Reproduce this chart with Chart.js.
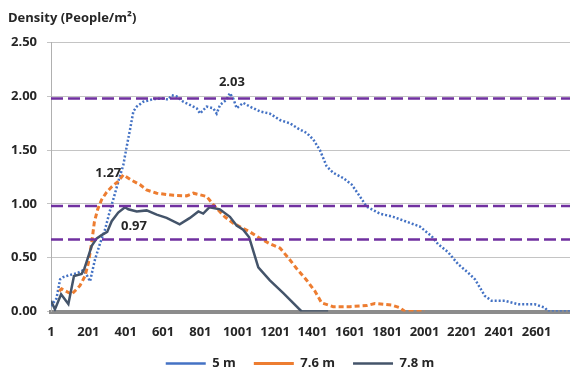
<!DOCTYPE html>
<html>
<head>
<meta charset="utf-8">
<script src="https://cdn.jsdelivr.net/npm/chart.js@4.4.1/dist/chart.umd.min.js"></script>
<style>
    html, body { margin: 0; padding: 0; background: #fff; }
    #wrap { width: 570px; height: 372px; }
</style>
</head>
<body>
<div id="wrap"><canvas id="densityChart"></canvas></div>
<script>
// Step axis: labels every 200 steps
const xTicks = [1, 201, 401, 601, 801, 1001, 1201, 1401, 1601, 1801, 2001, 2201, 2401, 2601];
const xEnd = 2780;
const yTicks = [0, 0.5, 1, 1.5, 2, 2.5];

// 5 m
const steps5 = [1, 30, 50, 67, 103, 139, 174, 195, 210, 236, 263, 290, 317, 344, 370, 388, 406, 424, 442, 460,
    495, 549, 602, 629, 647, 674, 709, 745, 781, 799, 834, 870, 888, 906, 941, 959, 977, 995, 1030, 1066,
    1120, 1173, 1227, 1280, 1325, 1370, 1405, 1441, 1477, 1512, 1566, 1611, 1655, 1691, 1762, 1833, 1905, 1976, 2039, 2074,
    2128, 2181, 2235, 2271, 2324, 2360, 2431, 2503, 2592, 2646, 2663, 2780];
const density5 = [0.05, 0.12, 0.30, 0.32, 0.34, 0.355, 0.385, 0.33, 0.28, 0.48, 0.63, 0.76, 0.94, 1.10, 1.26, 1.36, 1.53, 1.69, 1.86, 1.905,
    1.95, 1.975, 1.98, 1.97, 2.01, 2.00, 1.95, 1.92, 1.89, 1.84, 1.905, 1.89, 1.84, 1.92, 1.97, 2.03, 1.98, 1.89, 1.94, 1.905,
    1.86, 1.84, 1.78, 1.75, 1.70, 1.66, 1.60, 1.50, 1.35, 1.29, 1.24, 1.18, 1.07, 0.975, 0.91, 0.88, 0.835, 0.79, 0.70, 0.625,
    0.55, 0.44, 0.36, 0.30, 0.145, 0.10, 0.10, 0.067, 0.067, 0.035, 0.0, 0.0];

// 7.6 m
const steps76 = [45, 58, 112, 156, 183, 201, 219, 233, 251, 272, 299, 326, 361, 388, 433, 477, 513, 567, 656, 727,
    763, 834, 879, 932, 977, 1066, 1120, 1173, 1227, 1271, 1316, 1370, 1414, 1450, 1512, 1602, 1691, 1735, 1825, 1869,
    1896, 2003];
const density76 = [0.19, 0.21, 0.16, 0.24, 0.33, 0.45, 0.64, 0.83, 0.95, 1.04, 1.11, 1.16, 1.21, 1.27, 1.22, 1.18, 1.13, 1.10, 1.08, 1.075,
    1.10, 1.07, 0.975, 0.88, 0.82, 0.74, 0.68, 0.63, 0.59, 0.50, 0.40, 0.29, 0.19, 0.08, 0.045, 0.045, 0.055, 0.075, 0.06, 0.035,
    0.0, 0.0];

// 7.8 m
const steps78 = [1, 22, 55, 94, 124, 165, 180, 195, 219, 246, 272, 302, 326, 361, 397, 415, 460, 513, 567, 620,
    690, 745, 790, 816, 850, 905, 959, 995, 1030, 1062, 1111, 1173, 1245, 1343, 1485];
const density78 = [0.10, 0.02, 0.16, 0.07, 0.33, 0.35, 0.40, 0.48, 0.61, 0.68, 0.71, 0.74, 0.84, 0.92, 0.97, 0.95, 0.93, 0.94, 0.90, 0.87,
    0.81, 0.87, 0.93, 0.91, 0.97, 0.95, 0.88, 0.80, 0.76, 0.69, 0.41, 0.29, 0.17, 0.00, 0.00];

// Reference density levels (purple dashed)
const refLevels = [1.98, 0.98, 0.67];

const TEXT = '#262626';
const FONT = "'Open Sans', 'Noto Sans', sans-serif";
Chart.defaults.font.family = FONT;
Chart.defaults.color = TEXT;

function toPoints(xs, ys) {
    return xs.map((x, i) => ({ x: x, y: ys[i] }));
}

// Peak value labels (offsets from the peak point)
const peakLabels = [
    { dataset: 0, dx: 2, dy: -11 },
    { dataset: 1, dx: -15, dy: -2 },
    { dataset: 2, dx: 9, dy: 19 }
];

const peakLabelPlugin = {
    id: 'peakLabels',
    afterDatasetsDraw(chart) {
        const ctx = chart.ctx;
        ctx.save();
        ctx.font = 'bold 13px ' + FONT;
        ctx.fillStyle = TEXT;
        ctx.textAlign = 'center';
        ctx.textBaseline = 'middle';
        peakLabels.forEach(p => {
            const values = chart.data.datasets[p.dataset].data.map(d => d.y);
            const idx = values.indexOf(Math.max(...values));
            const pt = chart.getDatasetMeta(p.dataset).data[idx];
            ctx.fillText(values[idx].toFixed(2), pt.x + p.dx, pt.y + p.dy);
        });
        ctx.restore();
    }
};

// Nudge the legend sideways to where the original sits
const legendShiftPlugin = {
    id: 'legendShift',
    afterLayout(chart) {
        const l = chart.legend;
        l.left += 11; l.right += 11;
    }
};

const datasets = [
    {
        label: '5 m',
        data: toPoints(steps5, density5),
        borderColor: '#4472C4',
        borderWidth: 2.5,
        borderDash: [2, 2],
        order: 3
    },
    {
        label: '7.6 m',
        data: toPoints(steps76, density76),
        borderColor: '#ED7D31',
        borderWidth: 3,
        borderDash: [5, 3],
        order: 2
    },
    {
        label: '7.8 m',
        data: toPoints(steps78, density78),
        borderColor: '#44546A',
        borderWidth: 2.5,
        order: 1
    }
];

refLevels.forEach(level => {
    datasets.push({
        label: 'ref ' + level,
        data: [{ x: xTicks[0], y: level }, { x: xEnd, y: level }],
        borderColor: '#7030A0',
        borderWidth: 2.5,
        borderDash: [12, 5],
        order: 0
    });
});

new Chart(document.getElementById('densityChart').getContext('2d'), {
    type: 'line',
    data: { datasets: datasets },
    options: {
        responsive: true,
        maintainAspectRatio: false,
        animation: false,
        layout: { padding: { left: 8, right: 0, top: 0, bottom: -8 } },
        elements: {
            point: { radius: 0 },
            line: { tension: 0, fill: false }
        },
        plugins: {
            tooltip: { enabled: false },
            title: {
                display: true,
                text: 'Density (People/m²)',
                align: 'start',
                color: TEXT,
                font: { size: 13, weight: 'bold' },
                padding: { top: 10, bottom: 17 }
            },
            legend: {
                position: 'bottom',
                labels: {
                    usePointStyle: true,
                    pointStyle: 'line',
                    pointStyleWidth: 40,
                    padding: 18,
                    color: TEXT,
                    font: { size: 13, weight: 'bold' },
                    filter: item => item.datasetIndex < 3,
                    sort: (a, b) => a.datasetIndex - b.datasetIndex
                }
            }
        },
        scales: {
            x: {
                type: 'linear',
                min: xTicks[0],
                max: xEnd,
                afterBuildTicks: scale => { scale.ticks = xTicks.map(v => ({ value: v })); },
                afterFit: scale => { scale.height = 27.5; },
                grid: { display: false },
                border: { display: true, color: '#8c8c8c', width: 4 },
                ticks: {
                    autoSkip: false,
                    maxRotation: 0,
                    padding: 5,
                    color: TEXT,
                    font: { size: 13, weight: 'bold' },
                    callback: v => String(v)
                }
            },
            y: {
                min: 0,
                max: 2.5,
                afterBuildTicks: scale => { scale.ticks = yTicks.map(v => ({ value: v })); },
                afterFit: scale => { scale.width = 43; },
                grid: { color: '#c4c4c4', tickLength: 4 },
                border: { display: true, color: '#b0b0b0', width: 1 },
                ticks: {
                    padding: 10,
                    color: TEXT,
                    font: { size: 13, weight: 'bold' },
                    callback: v => v.toFixed(2)
                }
            }
        }
    },
    plugins: [peakLabelPlugin, legendShiftPlugin]
});
</script>
</body>
</html>
